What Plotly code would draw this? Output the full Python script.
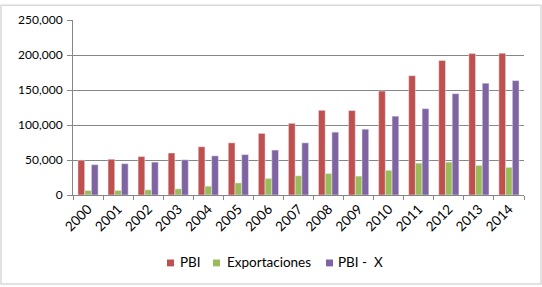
import plotly.graph_objects as go

years = ["2000", "2001", "2002", "2003", "2004", "2005", "2006", "2007",
         "2008", "2009", "2010", "2011", "2012", "2013", "2014"]
pbi = [49700, 51100, 54900, 60000, 68900, 74500, 88000, 102400,
       121000, 120600, 148500, 170400, 192200, 202000, 202500]
exportaciones = [6400, 6500, 7400, 8800, 12600, 17200, 23700, 27400,
                 30700, 27000, 35300, 45500, 47000, 42300, 39500]
pbi_x = [43300, 44700, 47000, 50300, 55900, 57700, 64200, 74500,
         89800, 94000, 112600, 123300, 144700, 159700, 163400]
series_names = ["PBI", "Exportaciones", "PBI -  X"]
series_colors = ["#C0504D", "#9BBB59", "#8064A2"]

W, H = 542, 287
ML, MR, MT, MB = 73, 18, 16, 92
PW, PH = W - ML - MR, H - MT - MB


def px_x(p):
    return (p - ML) / PW


def px_y(p):
    return (MT + PH - p) / PH


fig = go.Figure()
for name, vals, col in zip(series_names, [pbi, exportaciones, pbi_x], series_colors):
    fig.add_trace(go.Bar(name=name, x=years, y=vals, marker_color=col))

font = dict(family="Lato, 'Open Sans', sans-serif", size=12, color="#000000")

# legend drawn as small squares + text (Excel style)
legend_sq_x = [167, 213, 326]
legend_txt_x = [178, 225, 336]
shapes = [dict(type="rect", xref="paper", yref="paper",
               x0=px_x(1), x1=px_x(W - 1), y0=px_y(H - 1), y1=px_y(1),
               line=dict(color="#D9D9D9", width=1.5), layer="below")]
annotations = []
for sx, tx, name, col in zip(legend_sq_x, legend_txt_x, series_names, series_colors):
    shapes.append(dict(type="rect", xref="paper", yref="paper",
                       x0=px_x(sx), x1=px_x(sx + 7), y0=px_y(268), y1=px_y(261),
                       line=dict(width=0), fillcolor=col))
    annotations.append(dict(text=name, xref="paper", yref="paper",
                            x=px_x(tx), y=px_y(264), xanchor="left", yanchor="middle",
                            showarrow=False, font=dict(family="Lato, 'Open Sans', sans-serif",
                                                       size=13.5, color="#000000")))

fig.update_layout(
    width=W, height=H,
    margin=dict(l=ML, r=MR, t=MT, b=MB),
    paper_bgcolor="white", plot_bgcolor="white",
    barmode="group", bargap=0.33, bargroupgap=0,
    font=font,
    showlegend=False,
    xaxis=dict(type="category", tickangle=-45, showline=True, linecolor="#868686",
               linewidth=1, ticks="outside", tickson="boundaries", ticklen=4,
               tickcolor="#868686", showgrid=False, tickfont=dict(font, size=13.5)),
    yaxis=dict(range=[0, 250000], dtick=50000, tickformat=",", showline=True,
               linecolor="#868686", linewidth=1, ticks="outside", ticklen=5,
               tickcolor="#868686", showgrid=True, gridcolor="#868686",
               gridwidth=1, zeroline=False, tickfont=dict(font, size=12),
               ticklabelstandoff=2),
    shapes=shapes,
    annotations=annotations,
)

fig.write_html("out.html")
